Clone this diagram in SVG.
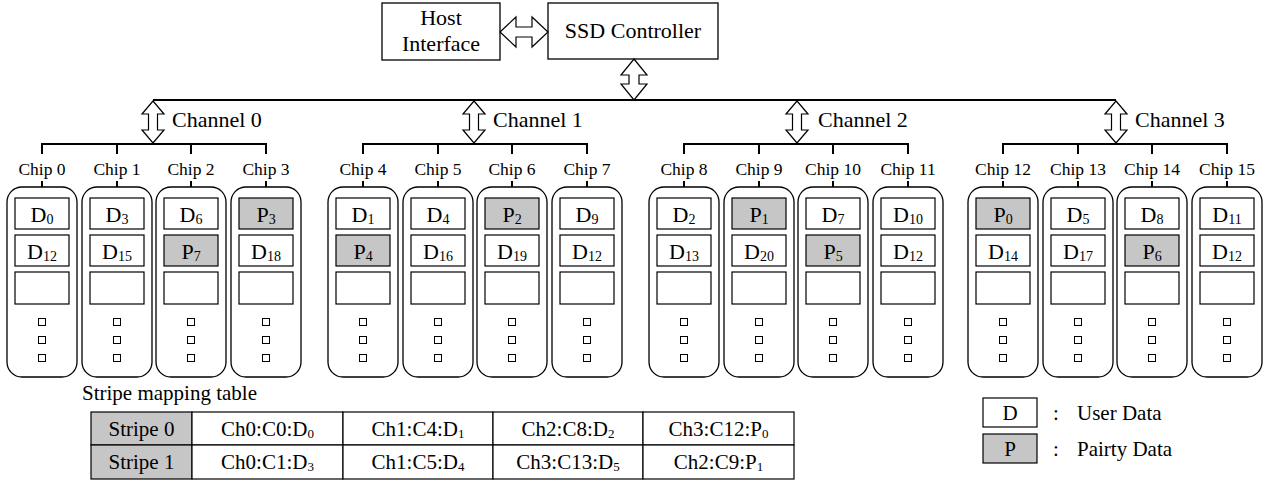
<svg xmlns="http://www.w3.org/2000/svg" width="1266" height="481" viewBox="0 0 1266 481" font-family="'Liberation Serif', 'DejaVu Serif', serif">
<style>
text{font-family:"Liberation Serif","DejaVu Serif",serif;fill:#000}
.box{fill:#fff;stroke:#000;stroke-width:1.3}
.chip{fill:#fff;stroke:#000;stroke-width:1.3}
.cell{fill:#fff;stroke:#000;stroke-width:1.2}
.par{fill:#c6c6c6;stroke:#000;stroke-width:1.2}
.sq{fill:#fff;stroke:#000;stroke-width:1}
.bus{stroke:#000;stroke-width:2;fill:none}
.arr{fill:#fff;stroke:#000;stroke-width:1.2}
.c{font-size:22px;text-anchor:middle}
.s{font-size:14px}
.lab{font-size:17.5px;text-anchor:middle}
.ch{font-size:22px}
.tb{font-size:21px;text-anchor:middle}
.ts{font-size:13px}
.lg{font-size:21px}
</style>
<defs>
<g id="sqs">
<rect class="sq" x="-3.5" y="318.5" width="7" height="7"/>
<rect class="sq" x="-3.5" y="336.5" width="7" height="7"/>
<rect class="sq" x="-3.5" y="354.5" width="7" height="7"/>
</g>
</defs>

<g id="host">
<rect class="box" x="382" y="3" width="118" height="57"/>
<text class="c" x="441" y="25">Host</text>
<text class="c" x="441" y="51">Interface</text>
</g>
<g id="ssd">
<rect class="box" x="548" y="3" width="170" height="56"/>
<text class="c" x="633" y="38">SSD Controller</text>
</g>

<g id="connectors">
<polygon class="arr" points="500,32 516,17 516,27 532,27 532,17 548,32 532,47 532,37 516,37 516,47"/>
<polygon class="arr" points="634,59 647,75 639,75 639,84 647,84 634,100 621,84 629,84 629,75 621,75"/>
<line class="bus" x1="153" y1="100" x2="1116" y2="100"/>
<polygon class="arr" points="153,101 164,114 157.5,114 157.5,130 164,130 153,143 142,130 148.5,130 148.5,114 142,114"/>
<polygon class="arr" points="474,101 485,114 478.5,114 478.5,130 485,130 474,143 463,130 469.5,130 469.5,114 463,114"/>
<polygon class="arr" points="797,101 808,114 801.5,114 801.5,130 808,130 797,143 786,130 792.5,130 792.5,114 786,114"/>
<polygon class="arr" points="1116,101 1127,114 1120.5,114 1120.5,130 1127,130 1116,143 1105,130 1111.5,130 1111.5,114 1105,114"/>
<path class="bus" d="M42,144H266M42,143V154M117,144V154M191,144V154M266,143V154"/>
<path class="bus" d="M363,144H587M363,143V154M438,144V154M512,144V154M587,143V154"/>
<path class="bus" d="M684,144H908M684,143V154M759,144V154M833,144V154M908,143V154"/>
<path class="bus" d="M1003,144H1227M1003,143V154M1078,144V154M1152,144V154M1227,143V154"/>
<path class="bus" d="M42,181V187M117,181V187M191,181V187M266,181V187M363,181V187M438,181V187M512,181V187M587,181V187M684,181V187M759,181V187M833,181V187M908,181V187M1003,181V187M1078,181V187M1152,181V187M1227,181V187"/>
</g>

<g id="channel-labels">
<text class="ch" x="172" y="127">Channel 0</text>
<text class="ch" x="493" y="127">Channel 1</text>
<text class="ch" x="818" y="127">Channel 2</text>
<text class="ch" x="1135" y="127">Channel 3</text>
</g>

<g id="chip0" transform="translate(42,0)">
<text class="lab" x="0" y="175">Chip 0</text>
<rect class="chip" x="-35" y="187" width="70" height="190" rx="15"/>
<rect class="cell" x="-27" y="198" width="54" height="31"/><text class="c" x="0" y="222">D<tspan class="s" dy="2">0</tspan></text>
<rect class="cell" x="-27" y="235" width="54" height="31"/><text class="c" x="0" y="259">D<tspan class="s" dy="2">12</tspan></text>
<rect class="cell" x="-27" y="272" width="54" height="32"/><use href="#sqs"/>
</g>
<g id="chip1" transform="translate(117,0)">
<text class="lab" x="0" y="175">Chip 1</text>
<rect class="chip" x="-35" y="187" width="70" height="190" rx="15"/>
<rect class="cell" x="-27" y="198" width="54" height="31"/><text class="c" x="0" y="222">D<tspan class="s" dy="2">3</tspan></text>
<rect class="cell" x="-27" y="235" width="54" height="31"/><text class="c" x="0" y="259">D<tspan class="s" dy="2">15</tspan></text>
<rect class="cell" x="-27" y="272" width="54" height="32"/><use href="#sqs"/>
</g>
<g id="chip2" transform="translate(191,0)">
<text class="lab" x="0" y="175">Chip 2</text>
<rect class="chip" x="-35" y="187" width="70" height="190" rx="15"/>
<rect class="cell" x="-27" y="198" width="54" height="31"/><text class="c" x="0" y="222">D<tspan class="s" dy="2">6</tspan></text>
<rect class="par" x="-27" y="235" width="54" height="31"/><text class="c" x="0" y="259">P<tspan class="s" dy="2">7</tspan></text>
<rect class="cell" x="-27" y="272" width="54" height="32"/><use href="#sqs"/>
</g>
<g id="chip3" transform="translate(266,0)">
<text class="lab" x="0" y="175">Chip 3</text>
<rect class="chip" x="-35" y="187" width="70" height="190" rx="15"/>
<rect class="par" x="-27" y="198" width="54" height="31"/><text class="c" x="0" y="222">P<tspan class="s" dy="2">3</tspan></text>
<rect class="cell" x="-27" y="235" width="54" height="31"/><text class="c" x="0" y="259">D<tspan class="s" dy="2">18</tspan></text>
<rect class="cell" x="-27" y="272" width="54" height="32"/><use href="#sqs"/>
</g>

<g id="chip4" transform="translate(363,0)">
<text class="lab" x="0" y="175">Chip 4</text>
<rect class="chip" x="-35" y="187" width="70" height="190" rx="15"/>
<rect class="cell" x="-27" y="198" width="54" height="31"/><text class="c" x="0" y="222">D<tspan class="s" dy="2">1</tspan></text>
<rect class="par" x="-27" y="235" width="54" height="31"/><text class="c" x="0" y="259">P<tspan class="s" dy="2">4</tspan></text>
<rect class="cell" x="-27" y="272" width="54" height="32"/><use href="#sqs"/>
</g>
<g id="chip5" transform="translate(438,0)">
<text class="lab" x="0" y="175">Chip 5</text>
<rect class="chip" x="-35" y="187" width="70" height="190" rx="15"/>
<rect class="cell" x="-27" y="198" width="54" height="31"/><text class="c" x="0" y="222">D<tspan class="s" dy="2">4</tspan></text>
<rect class="cell" x="-27" y="235" width="54" height="31"/><text class="c" x="0" y="259">D<tspan class="s" dy="2">16</tspan></text>
<rect class="cell" x="-27" y="272" width="54" height="32"/><use href="#sqs"/>
</g>
<g id="chip6" transform="translate(512,0)">
<text class="lab" x="0" y="175">Chip 6</text>
<rect class="chip" x="-35" y="187" width="70" height="190" rx="15"/>
<rect class="par" x="-27" y="198" width="54" height="31"/><text class="c" x="0" y="222">P<tspan class="s" dy="2">2</tspan></text>
<rect class="cell" x="-27" y="235" width="54" height="31"/><text class="c" x="0" y="259">D<tspan class="s" dy="2">19</tspan></text>
<rect class="cell" x="-27" y="272" width="54" height="32"/><use href="#sqs"/>
</g>
<g id="chip7" transform="translate(587,0)">
<text class="lab" x="0" y="175">Chip 7</text>
<rect class="chip" x="-35" y="187" width="70" height="190" rx="15"/>
<rect class="cell" x="-27" y="198" width="54" height="31"/><text class="c" x="0" y="222">D<tspan class="s" dy="2">9</tspan></text>
<rect class="cell" x="-27" y="235" width="54" height="31"/><text class="c" x="0" y="259">D<tspan class="s" dy="2">12</tspan></text>
<rect class="cell" x="-27" y="272" width="54" height="32"/><use href="#sqs"/>
</g>

<g id="chip8" transform="translate(684,0)">
<text class="lab" x="0" y="175">Chip 8</text>
<rect class="chip" x="-35" y="187" width="70" height="190" rx="15"/>
<rect class="cell" x="-27" y="198" width="54" height="31"/><text class="c" x="0" y="222">D<tspan class="s" dy="2">2</tspan></text>
<rect class="cell" x="-27" y="235" width="54" height="31"/><text class="c" x="0" y="259">D<tspan class="s" dy="2">13</tspan></text>
<rect class="cell" x="-27" y="272" width="54" height="32"/><use href="#sqs"/>
</g>
<g id="chip9" transform="translate(759,0)">
<text class="lab" x="0" y="175">Chip 9</text>
<rect class="chip" x="-35" y="187" width="70" height="190" rx="15"/>
<rect class="par" x="-27" y="198" width="54" height="31"/><text class="c" x="0" y="222">P<tspan class="s" dy="2">1</tspan></text>
<rect class="cell" x="-27" y="235" width="54" height="31"/><text class="c" x="0" y="259">D<tspan class="s" dy="2">20</tspan></text>
<rect class="cell" x="-27" y="272" width="54" height="32"/><use href="#sqs"/>
</g>
<g id="chip10" transform="translate(833,0)">
<text class="lab" x="0" y="175">Chip 10</text>
<rect class="chip" x="-35" y="187" width="70" height="190" rx="15"/>
<rect class="cell" x="-27" y="198" width="54" height="31"/><text class="c" x="0" y="222">D<tspan class="s" dy="2">7</tspan></text>
<rect class="par" x="-27" y="235" width="54" height="31"/><text class="c" x="0" y="259">P<tspan class="s" dy="2">5</tspan></text>
<rect class="cell" x="-27" y="272" width="54" height="32"/><use href="#sqs"/>
</g>
<g id="chip11" transform="translate(908,0)">
<text class="lab" x="0" y="175">Chip 11</text>
<rect class="chip" x="-35" y="187" width="70" height="190" rx="15"/>
<rect class="cell" x="-27" y="198" width="54" height="31"/><text class="c" x="0" y="222">D<tspan class="s" dy="2">10</tspan></text>
<rect class="cell" x="-27" y="235" width="54" height="31"/><text class="c" x="0" y="259">D<tspan class="s" dy="2">12</tspan></text>
<rect class="cell" x="-27" y="272" width="54" height="32"/><use href="#sqs"/>
</g>

<g id="chip12" transform="translate(1003,0)">
<text class="lab" x="0" y="175">Chip 12</text>
<rect class="chip" x="-35" y="187" width="70" height="190" rx="15"/>
<rect class="par" x="-27" y="198" width="54" height="31"/><text class="c" x="0" y="222">P<tspan class="s" dy="2">0</tspan></text>
<rect class="cell" x="-27" y="235" width="54" height="31"/><text class="c" x="0" y="259">D<tspan class="s" dy="2">14</tspan></text>
<rect class="cell" x="-27" y="272" width="54" height="32"/><use href="#sqs"/>
</g>
<g id="chip13" transform="translate(1078,0)">
<text class="lab" x="0" y="175">Chip 13</text>
<rect class="chip" x="-35" y="187" width="70" height="190" rx="15"/>
<rect class="cell" x="-27" y="198" width="54" height="31"/><text class="c" x="0" y="222">D<tspan class="s" dy="2">5</tspan></text>
<rect class="cell" x="-27" y="235" width="54" height="31"/><text class="c" x="0" y="259">D<tspan class="s" dy="2">17</tspan></text>
<rect class="cell" x="-27" y="272" width="54" height="32"/><use href="#sqs"/>
</g>
<g id="chip14" transform="translate(1152,0)">
<text class="lab" x="0" y="175">Chip 14</text>
<rect class="chip" x="-35" y="187" width="70" height="190" rx="15"/>
<rect class="cell" x="-27" y="198" width="54" height="31"/><text class="c" x="0" y="222">D<tspan class="s" dy="2">8</tspan></text>
<rect class="par" x="-27" y="235" width="54" height="31"/><text class="c" x="0" y="259">P<tspan class="s" dy="2">6</tspan></text>
<rect class="cell" x="-27" y="272" width="54" height="32"/><use href="#sqs"/>
</g>
<g id="chip15" transform="translate(1227,0)">
<text class="lab" x="0" y="175">Chip 15</text>
<rect class="chip" x="-35" y="187" width="70" height="190" rx="15"/>
<rect class="cell" x="-27" y="198" width="54" height="31"/><text class="c" x="0" y="222">D<tspan class="s" dy="2">11</tspan></text>
<rect class="cell" x="-27" y="235" width="54" height="31"/><text class="c" x="0" y="259">D<tspan class="s" dy="2">12</tspan></text>
<rect class="cell" x="-27" y="272" width="54" height="32"/><use href="#sqs"/>
</g>

<g id="table">
<text class="lg" x="82" y="400">Stripe mapping table</text>
<rect class="par" x="91" y="412" width="101" height="33"/>
<rect class="par" x="91" y="445" width="101" height="34"/>
<rect class="cell" x="192" y="412" width="151" height="33"/>
<rect class="cell" x="343" y="412" width="150" height="33"/>
<rect class="cell" x="493" y="412" width="150" height="33"/>
<rect class="cell" x="643" y="412" width="151" height="33"/>
<rect class="cell" x="192" y="445" width="151" height="34"/>
<rect class="cell" x="343" y="445" width="150" height="34"/>
<rect class="cell" x="493" y="445" width="150" height="34"/>
<rect class="cell" x="643" y="445" width="151" height="34"/>
<text class="tb" x="141.5" y="436">Stripe 0</text>
<text class="tb" x="267.5" y="436">Ch0:C0:D<tspan class="ts" dy="2">0</tspan></text>
<text class="tb" x="418" y="436">Ch1:C4:D<tspan class="ts" dy="2">1</tspan></text>
<text class="tb" x="568" y="436">Ch2:C8:D<tspan class="ts" dy="2">2</tspan></text>
<text class="tb" x="718.5" y="436">Ch3:C12:P<tspan class="ts" dy="2">0</tspan></text>
<text class="tb" x="141.5" y="469">Stripe 1</text>
<text class="tb" x="267.5" y="469">Ch0:C1:D<tspan class="ts" dy="2">3</tspan></text>
<text class="tb" x="418" y="469">Ch1:C5:D<tspan class="ts" dy="2">4</tspan></text>
<text class="tb" x="568" y="469">Ch3:C13:D<tspan class="ts" dy="2">5</tspan></text>
<text class="tb" x="718.5" y="469">Ch2:C9:P<tspan class="ts" dy="2">1</tspan></text>
</g>

<g id="legend">
<rect class="cell" x="983" y="398" width="54" height="29"/>
<text class="lg" x="1010" y="420" text-anchor="middle">D</text>
<text class="lg" x="1053" y="420">:</text>
<text class="lg" x="1077" y="420">User Data</text>
<rect class="par" x="983" y="434" width="54" height="29"/>
<text class="lg" x="1010" y="456" text-anchor="middle">P</text>
<text class="lg" x="1053" y="456">:</text>
<text class="lg" x="1077" y="456">Pairty Data</text>
</g>
</svg>
